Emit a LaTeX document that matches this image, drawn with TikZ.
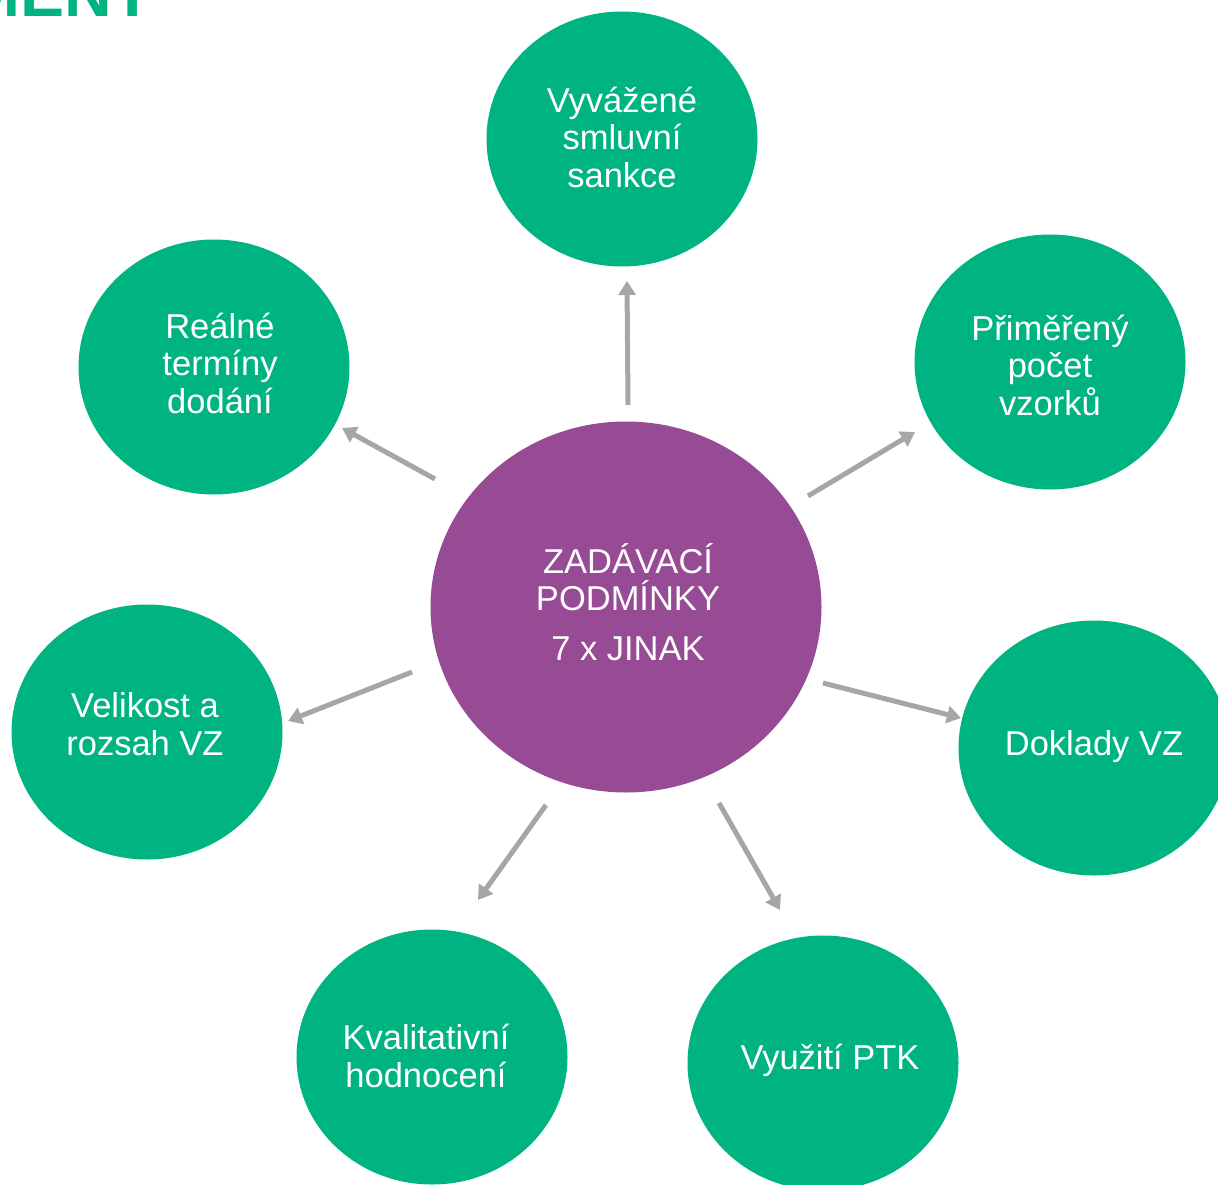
\documentclass[tikz,border=0pt]{standalone}
\usepackage{fontspec}
\setmainfont{Liberation Sans}
\usetikzlibrary{shapes.geometric,arrows.meta}
\definecolor{grn}{HTML}{00B482}
\definecolor{prp}{HTML}{964B94}
\definecolor{arr}{HTML}{A6A6A6}
\tikzset{
  bubble/.style={ellipse, fill=grn, minimum width=271pt, minimum height=255pt, inner sep=0pt},
  hub/.style={ellipse, fill=prp, minimum width=391pt, minimum height=371pt, inner sep=0pt},
  lbl/.style={text=white, align=center, font=\fontsize{34.5}{37.5}\selectfont, inner sep=0pt},
  link/.style={draw=arr, line width=5pt, -{Triangle[width=17pt,length=14pt]}}
}
\begin{document}
\begin{tikzpicture}[x=1pt,y=-1pt]
\useasboundingbox (0,0) rectangle (1218,1185);
\node[anchor=base east, text=grn, inner sep=0pt, font=\fontsize{66}{66}\bfseries\selectfont] (title) at (153,17) {MENT};
% bubbles
\node[hub] (c) at (626,607) {};
\node[bubble] (n1) at (622,139) {};
\node[bubble] (n2) at (214,367) {};
\node[bubble] (n3) at (1050,362) {};
\node[bubble] (n4) at (147,732) {};
\node[bubble] (n5) at (1094,748) {};
\node[bubble] (n6) at (432,1057) {};
\node[bubble] (n7) at (823,1063) {};
% labels
\node[lbl] (tc) at (628,602) {ZADÁVACÍ\\PODMÍNKY\\[12pt]7 x JINAK};
\node[lbl] (t1) at (622,137) {Vyvážené\\smluvní\\sankce};
\node[lbl] (t2) at (220,363) {Reálné\\termíny\\dodání};
\node[lbl] (t3) at (1050,365) {Přiměřený\\počet\\vzorků};
\node[lbl] (t4) at (145,724) {Velikost a\\rozsah VZ};
\node[lbl] (t5) at (1094,747) {Doklady VZ};
\node[lbl] (t6) at (426,1056) {Kvalitativní\\hodnocení};
\node[lbl] (t7) at (830,1060) {Využití PTK};
% arrow ends
\coordinate (s1) at (628,405); \coordinate (e1) at (627,281);
\coordinate (s2) at (435,479); \coordinate (e2) at (342,428);
\coordinate (s3) at (808,496); \coordinate (e3) at (915,432);
\coordinate (s4) at (412,672); \coordinate (e4) at (288,721);
\coordinate (s5) at (823,683); \coordinate (e5) at (961,718);
\coordinate (s6) at (546,805); \coordinate (e6) at (478,900);
\coordinate (s7) at (719,803); \coordinate (e7) at (780,910);
\foreach \i in {1,...,7} { \draw[link] (s\i) -- (e\i); }
\end{tikzpicture}
\end{document}
